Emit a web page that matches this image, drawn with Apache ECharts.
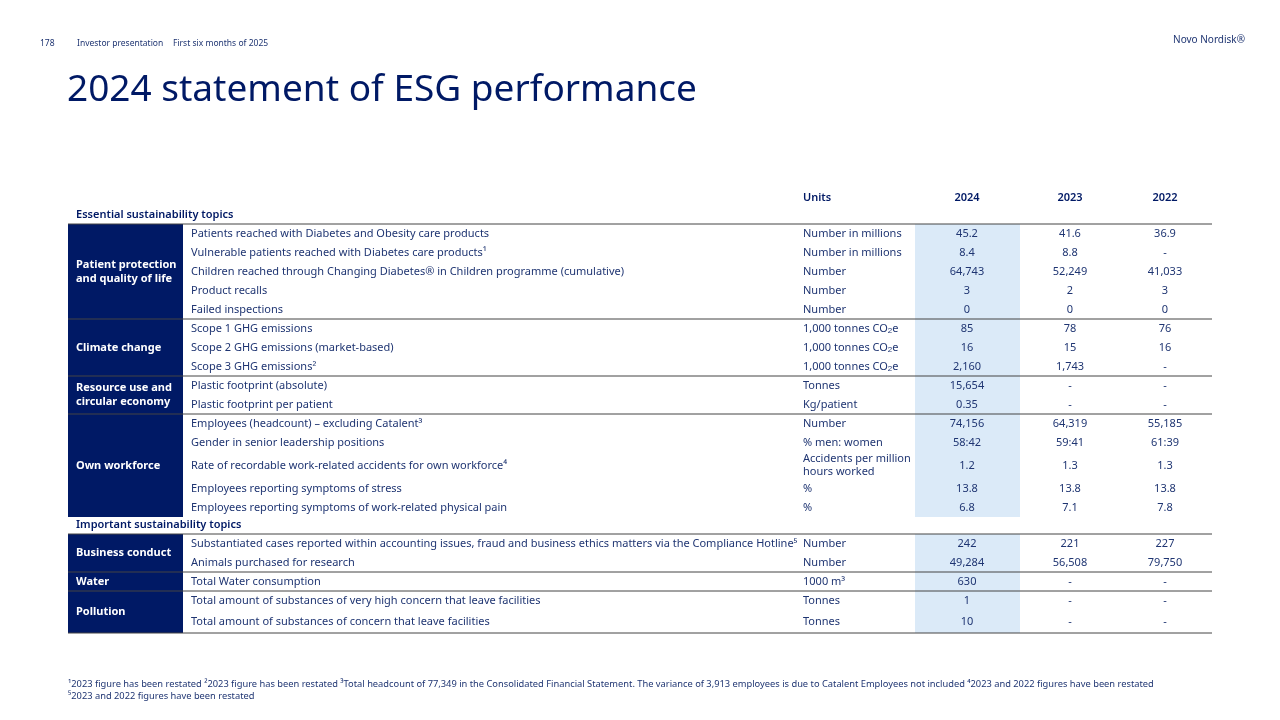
<!DOCTYPE html>
<html><head><meta charset="utf-8">
<script src="https://cdn.jsdelivr.net/npm/echarts@6/dist/echarts.min.js"></script>
<style>html,body{margin:0;padding:0;background:#fff}#c{width:1280px;height:720px}</style>
</head><body><div id="c"></div>
<script>
const years = ['2024','2023','2022'];
const sections = ['Essential sustainability topics','Important sustainability topics'];
const groups = [
  {name:'Patient protection\nand quality of life', rows:5, section:0},
  {name:'Climate change', rows:3, section:0},
  {name:'Resource use and\ncircular economy', rows:2, section:0},
  {name:'Own workforce', rows:5, section:0},
  {name:'Business conduct', rows:2, section:1},
  {name:'Water', rows:1, section:1},
  {name:'Pollution', rows:2, section:1}
];
const metrics = [
  'Patients reached with Diabetes and Obesity care products',
  'Vulnerable patients reached with Diabetes care products¹',
  'Children reached through Changing Diabetes® in Children programme (cumulative)',
  'Product recalls','Failed inspections',
  'Scope 1 GHG emissions','Scope 2 GHG emissions (market-based)','Scope 3 GHG emissions²',
  'Plastic footprint (absolute)','Plastic footprint per patient',
  'Employees (headcount) – excluding Catalent³','Gender in senior leadership positions',
  'Rate of recordable work-related accidents for own workforce⁴',
  'Employees reporting symptoms of stress','Employees reporting symptoms of work-related physical pain',
  'Substantiated cases reported within accounting issues, fraud and business ethics matters via the Compliance Hotline⁵',
  'Animals purchased for research','Total Water consumption',
  'Total amount of substances of very high concern that leave facilities',
  'Total amount of substances of concern that leave facilities'
];
const units = ['Number in millions','Number in millions','Number','Number','Number',
  '1,000 tonnes CO{s|2}e','1,000 tonnes CO{s|2}e','1,000 tonnes CO{s|2}e',
  'Tonnes','Kg/patient','Number','% men: women','Accidents per million\nhours worked','%','%',
  'Number','Number','1000 m³','Tonnes','Tonnes'];
const v2024 = ['45.2','8.4','64,743','3','0','85','16','2,160','15,654','0.35','74,156','58:42','1.2','13.8','6.8','242','49,284','630','1','10'];
const v2023 = ['41.6','8.8','52,249','2','0','78','15','1,743','-','-','64,319','59:41','1.3','13.8','7.1','221','56,508','-','-','-'];
const v2022 = ['36.9','-','41,033','3','0','76','16','-','-','-','55,185','61:39','1.3','13.8','7.8','227','79,750','-','-','-'];

const NAVY='#001965', BODY='#1f3572', F='"Noto Sans", sans-serif';
const g=[];
const txt=(x,y,t,o={})=>g.push({type:'text',x,y,style:Object.assign({text:t,fill:BODY,font:'11px '+F,textVerticalAlign:'middle',rich:{s:{fontSize:8,verticalAlign:'bottom',padding:[6,0,0,0],fill:BODY}}},o)});
const X0=68,X1=183,XM=191,XU=803,XC=[967,1070,1165],BAND=[915,1020];

txt(XU,198,'Units',{font:'600 11px '+F,fill:NAVY});
years.forEach((y,i)=>txt(XC[i],198,y,{font:'600 11px '+F,textAlign:'center',fill:NAVY}));
let y=207, r=0, sec=-1;
groups.forEach(gr=>{
  if(gr.section!==sec){sec=gr.section;txt(76,y+8,sections[sec],{font:'600 11px '+F,fill:NAVY});y+=17;}
  const top=y;
  for(let k=0;k<gr.rows;k++){
    const h = r===12?27:(r===19?23:19);
    g.push({type:'rect',shape:{x:BAND[0],y:y,width:BAND[1]-BAND[0],height:h},style:{fill:'#dbeaf8'}});
    txt(XM,y+h/2,metrics[r]);
    txt(XU,y+h/2,units[r],{lineHeight:13});
    [v2024,v2023,v2022].forEach((a,i)=>txt(XC[i],y+h/2,a[r],{textAlign:'center'}));
    y+=h; r++;
  }
  g.push({type:'rect',shape:{x:X0,y:top,width:X1-X0,height:y-top},style:{fill:NAVY}});
  txt(76,(top+y)/2,gr.name,{fill:'#fff',font:'bold 11px '+F,lineHeight:14});
  g.push({type:'line',shape:{x1:X0,y1:top,x2:1212,y2:top},style:{stroke:'#444',lineWidth:1}});
});
g.push({type:'line',shape:{x1:X0,y1:y,x2:1212,y2:y},style:{stroke:'#444',lineWidth:1}});

txt(40,44,'178',{font:'8.5px '+F});
txt(77,44,'Investor presentation',{font:'8.5px '+F});
txt(173,44,'First six months of 2025',{font:'8.5px '+F});
txt(1245,40,'Novo Nordisk®',{font:'10px '+F,textAlign:'right'});
txt(67,90,'2024 statement of ESG performance',{font:'37px '+F,fill:NAVY});
txt(68,684,'¹2023 figure has been restated ²2023 figure has been restated ³Total headcount of 77,349 in the Consolidated Financial Statement. The variance of 3,913 employees is due to Catalent Employees not included ⁴2023 and 2022 figures have been restated',{font:'9.3px '+F});
txt(68,696,'⁵2023 and 2022 figures have been restated',{font:'9.3px '+F});

const ch=echarts.init(document.getElementById('c'));
ch.setOption({animation:false,graphic:{elements:g}});
</script></body></html>
